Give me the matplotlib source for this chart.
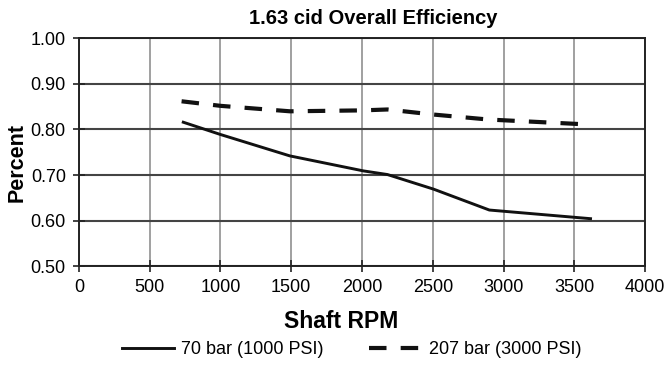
import matplotlib
matplotlib.use('Agg')
import matplotlib.pyplot as plt

plt.rcParams['font.family'] = ['Liberation Sans', 'DejaVu Sans']

# Shaft RPM vs overall efficiency
rpm_70 = [737, 1000, 1490, 2010, 2180, 2505, 2900, 3615]
eff_70 = [0.816, 0.789, 0.742, 0.709, 0.701, 0.669, 0.623, 0.604]

rpm_207 = [725, 1000, 1490, 2000, 2180, 2500, 2890, 3600]
eff_207 = [0.862, 0.852, 0.840, 0.842, 0.844, 0.833, 0.822, 0.811]

labels = ['70 bar (1000 PSI)', '207 bar (3000 PSI)']

fig = plt.figure(figsize=(6.7, 3.67), dpi=100)
ax = fig.add_axes([0.1179, 0.2752, 0.8448, 0.6199])

ax.plot(rpm_70, eff_70, c='#111111', linestyle='-', lw=2.1, label=labels[0])
ax.plot(rpm_207, eff_207, c='#111111', linestyle=(0, (4.2, 3.4)), lw=3, label=labels[1])

ax.axis([0, 4000, 0.5, 1.0])
ax.set_xticks(range(0, 4001, 500))
ax.set_yticks([0.5, 0.6, 0.7, 0.8, 0.9, 1.0])
ax.set_yticklabels(['%.2f' % v for v in ax.get_yticks()])
ax.xaxis.grid(True, color='#999999', lw=1.3)
ax.yaxis.grid(True, color='#444444', lw=1.5)
ax.set_axisbelow(True)
for s in ax.spines.values():
    s.set_color('#222222')
    s.set_linewidth(1.4)
ax.tick_params(direction='inout', length=9, width=1.2, labelsize=13, color='#222222')
ax.tick_params(axis='x', pad=5)
ax.tick_params(axis='y', pad=5)

fig.text(373.5 / 670, 1 - 18 / 367, '1.63 cid Overall Efficiency', fontsize=14.5,
         fontweight='bold', ha='center', va='center')
ax.set_xlabel('Shaft RPM', fontsize=16.5, fontweight='bold', va='center')
ax.xaxis.set_label_coords(0.463, -0.242)
ax.set_ylabel('Percent', fontsize=15.5, fontweight='bold', va='center', ha='center')
ax.yaxis.set_label_coords(-0.110, 0.455)

fig.legend(loc='center', bbox_to_anchor=(351.5 / 670, 1 - 350 / 367), ncol=2, frameon=False,
           fontsize=13, handlelength=2.9, handletextpad=0.4, columnspacing=2.5,
           borderpad=0, borderaxespad=0)

plt.savefig('out.png', dpi=100)
